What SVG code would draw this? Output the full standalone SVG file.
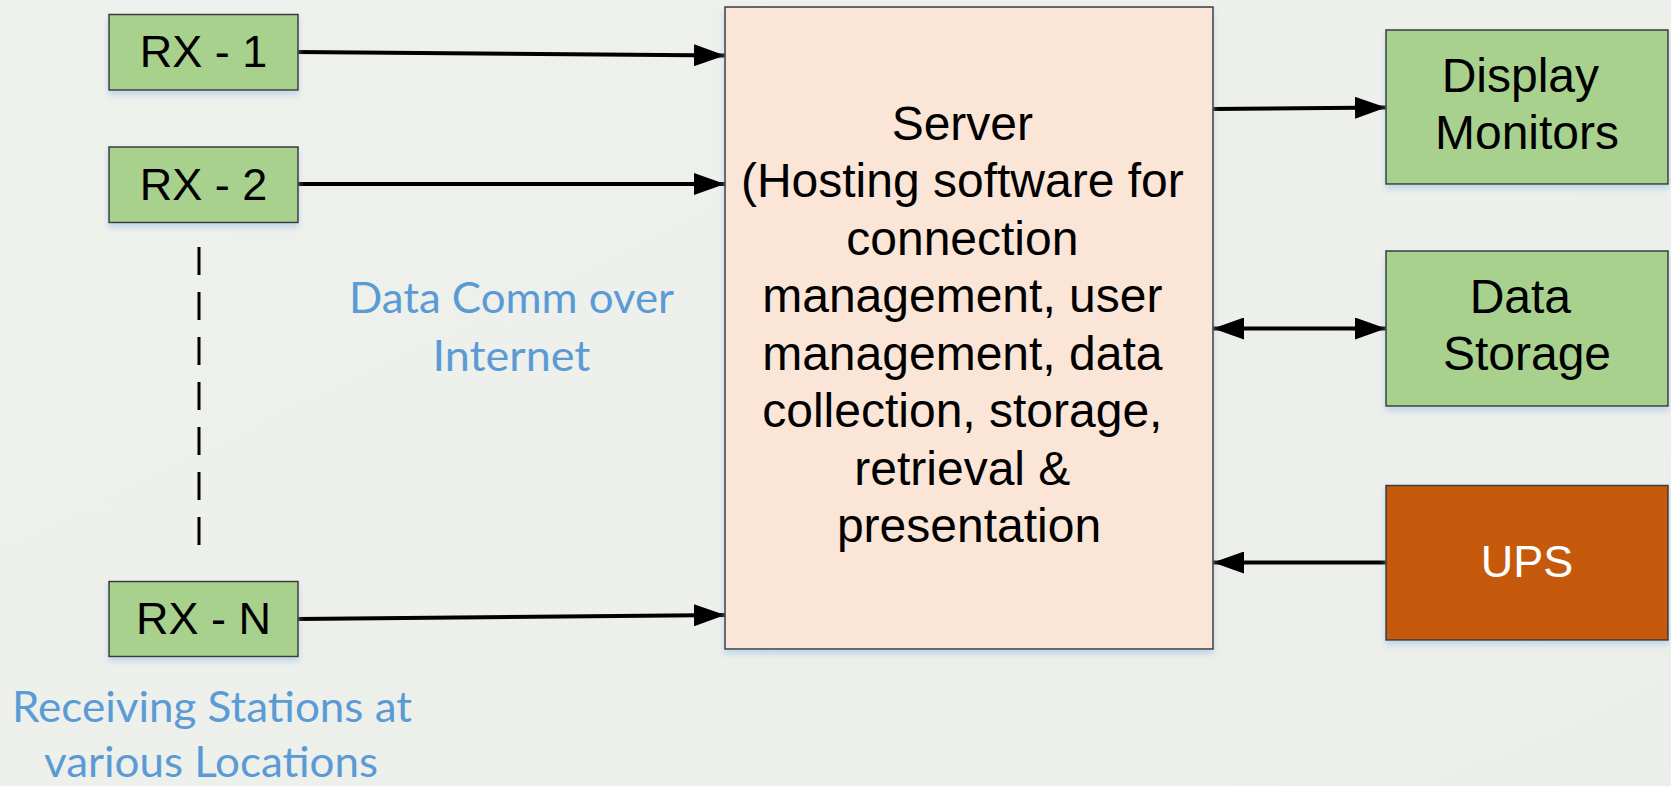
<svg xmlns="http://www.w3.org/2000/svg" width="1671" height="786" viewBox="0 0 1671 786">
  <defs>
    <style>
      .box { stroke: #3a3a3a; stroke-width: 1.5; filter: url(#glow); }
      .rx { fill: #A9D18E; }
      .out { fill: #A9D18E; }
      .srv { fill: #FBE5D6; }
      .ups { fill: #C55A11; }
      .lbl { font-family: "Liberation Sans", Arial, sans-serif; font-size: 45px; fill: #000; text-anchor: middle; }
      .big { font-size: 48px; }
      .white { fill: #fff; }
      .note { font-family: Lato, "Open Sans", sans-serif; font-size: 43px; fill: #5B9BD5; text-anchor: middle; }
      .wire { stroke: #000; stroke-width: 4; fill: none; }
      .dash { stroke: #000; stroke-width: 3; fill: none; stroke-dasharray: 28 17; }
    </style>
    <filter id="glow" x="-10%" y="-10%" width="120%" height="130%">
      <feDropShadow dx="0" dy="4" stdDeviation="3" flood-color="#9DC3E6" flood-opacity="0.6"/>
    </filter>
    <marker id="head" viewBox="0 0 31 22" refX="31" refY="11" markerWidth="31" markerHeight="22" markerUnits="userSpaceOnUse" orient="auto-start-reverse">
      <path d="M0,0 L31,11 L0,22 Z" fill="#000"/>
    </marker>
    <linearGradient id="bg" x1="0" y1="0" x2="1" y2="1">
      <stop offset="0" stop-color="#EFF1ED"/>
      <stop offset="1" stop-color="#ECEEEA"/>
    </linearGradient>
  </defs>

  <rect width="1671" height="786" fill="url(#bg)"/>

  <!-- connectors -->
  <g id="connectors">
    <line class="wire" x1="298" y1="52" x2="725" y2="55.5" marker-end="url(#head)"/>
    <line class="wire" x1="298" y1="184" x2="725" y2="184" marker-end="url(#head)"/>
    <line class="wire" x1="298" y1="619" x2="725" y2="615" marker-end="url(#head)"/>
    <line class="dash" x1="199" y1="247" x2="199" y2="553"/>
    <line class="wire" x1="1213" y1="109" x2="1386" y2="107.5" marker-end="url(#head)"/>
    <line class="wire" x1="1213" y1="328.5" x2="1386" y2="328.5" marker-start="url(#head)" marker-end="url(#head)"/>
    <line class="wire" x1="1386" y1="562.5" x2="1213" y2="562.5" marker-end="url(#head)"/>
  </g>

  <!-- receiving stations -->
  <g id="rx1">
    <rect class="box rx" x="109" y="14.5" width="189" height="75.5"/>
    <text class="lbl" x="203.5" y="67">RX - 1</text>
  </g>
  <g id="rx2">
    <rect class="box rx" x="109" y="147" width="189" height="75.5"/>
    <text class="lbl" x="203.5" y="200">RX - 2</text>
  </g>
  <g id="rxn">
    <rect class="box rx" x="109" y="581.5" width="189" height="75"/>
    <text class="lbl" x="203.5" y="634">RX - N</text>
  </g>

  <!-- server -->
  <g id="server">
    <rect class="box srv" x="725" y="7" width="488" height="642"/>
    <text class="lbl big">
      <tspan x="969" y="140">Server</tspan>
      <tspan x="969" y="197">(Hosting software for</tspan>
      <tspan x="969" y="254.5">connection</tspan>
      <tspan x="969" y="312">management, user</tspan>
      <tspan x="969" y="369.5">management, data</tspan>
      <tspan x="969" y="427">collection, storage,</tspan>
      <tspan x="969" y="484.5">retrieval &amp;</tspan>
      <tspan x="969" y="542">presentation</tspan>
    </text>
  </g>

  <!-- outputs -->
  <g id="display">
    <rect class="box out" x="1386" y="30" width="282" height="154"/>
    <text class="lbl big">
      <tspan x="1527" y="92">Display</tspan>
      <tspan x="1527" y="149">Monitors</tspan>
    </text>
  </g>
  <g id="storage">
    <rect class="box out" x="1386" y="251" width="282" height="155"/>
    <text class="lbl big">
      <tspan x="1527" y="313">Data</tspan>
      <tspan x="1527" y="370">Storage</tspan>
    </text>
  </g>
  <g id="ups">
    <rect class="box ups" x="1386" y="485.5" width="282" height="154.5"/>
    <text class="lbl white" x="1527" y="577" font-size="46">UPS</text>
  </g>

  <!-- annotations -->
  <g id="notes">
    <text class="note" x="511.5" y="313" textLength="325" lengthAdjust="spacingAndGlyphs">Data Comm over</text>
    <text class="note" x="511.5" y="371" textLength="158" lengthAdjust="spacingAndGlyphs">Internet</text>
    <text class="note" x="212" y="722" textLength="400" lengthAdjust="spacingAndGlyphs">Receiving Stations at</text>
    <text class="note" x="211" y="777" textLength="334" lengthAdjust="spacingAndGlyphs">various Locations</text>
  </g>
</svg>
